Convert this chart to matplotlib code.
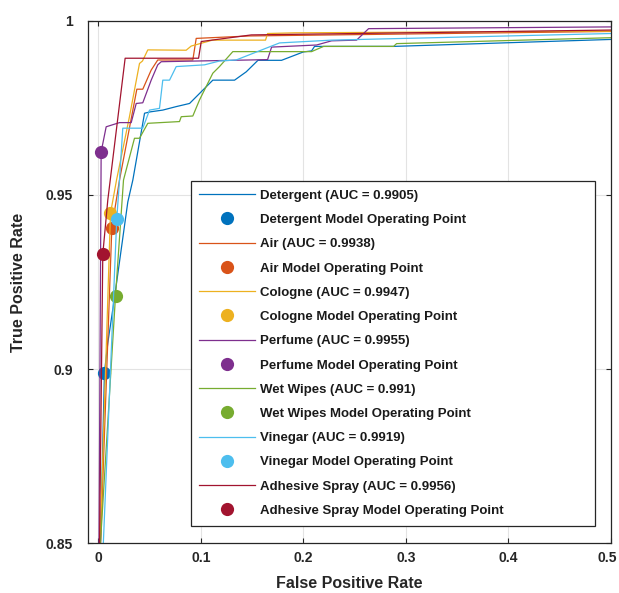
import matplotlib
matplotlib.use("Agg")
import matplotlib.pyplot as plt
import matplotlib.transforms as mtransforms

plt.rcParams['font.family'] = ['Liberation Sans', 'DejaVu Sans']
plt.rcParams['font.weight'] = 'bold'

# ROC curves (FPR, TPR); points below 0.85 are clipped by ylim
names = ["Detergent", "Air", "Cologne", "Perfume", "Wet Wipes", "Vinegar", "Adhesive Spray"]
aucs = ["0.9905", "0.9938", "0.9947", "0.9955", "0.991", "0.9919", "0.9956"]

fpr_detergent = [0.0, 0.0021, 0.0060, 0.0093, 0.0155, 0.0288, 0.0337, 0.0451, 0.0509, 0.0629, 0.0760,
                 0.0890, 0.1117, 0.1329, 0.1443, 0.1557, 0.1787, 0.1999, 0.2080, 0.2109, 0.2880, 0.5, 1.0]
tpr_detergent = [0.0, 0.849, 0.8989, 0.9075, 0.9198, 0.9480, 0.9543, 0.9735, 0.9739, 0.9744, 0.9754,
                 0.9763, 0.9830, 0.9830, 0.9854, 0.9887, 0.9887, 0.9911, 0.9914, 0.9927, 0.9927, 0.9947, 1.0]

fpr_air = [0.0, 0.0021, 0.0132, 0.0207, 0.0376, 0.0434, 0.0516, 0.0580, 0.0922, 0.0955, 0.1475, 0.5, 1.0]
tpr_air = [0.0, 0.849, 0.9405, 0.9543, 0.9804, 0.9804, 0.9859, 0.9888, 0.9888, 0.9950, 0.9957, 0.9970, 1.0]

fpr_cologne = [0.0, 0.0017, 0.0119, 0.0178, 0.0304, 0.0402, 0.0431, 0.0483, 0.0857, 0.0906, 0.1114,
               0.1631, 0.1651, 0.1914, 0.5, 1.0]
tpr_cologne = [0.0, 0.849, 0.9447, 0.9543, 0.9725, 0.9878, 0.9885, 0.9917, 0.9916, 0.9928, 0.9945,
               0.9945, 0.9964, 0.9966, 0.9971, 1.0]

fpr_perfume = [0.0, 0.0007, 0.0028, 0.0077, 0.0207, 0.0321, 0.0370, 0.0434, 0.0516, 0.0580, 0.0614,
               0.1651, 0.1690, 0.2129, 0.2275, 0.2519, 0.2636, 0.5, 1.0]
tpr_perfume = [0.0, 0.849, 0.9624, 0.9696, 0.9708, 0.9708, 0.9763, 0.9765, 0.9830, 0.9874, 0.9883,
               0.9889, 0.9925, 0.9931, 0.9943, 0.9945, 0.9978, 0.9983, 1.0]

fpr_wetwipes = [0.0, 0.0019, 0.0168, 0.0246, 0.0353, 0.0402, 0.0483, 0.0792, 0.0809, 0.0922, 0.0987,
                0.1117, 0.1182, 0.1312, 0.2080, 0.2197, 0.2880, 0.2909, 0.5, 1.0]
tpr_wetwipes = [0.0, 0.849, 0.9210, 0.9543, 0.9663, 0.9663, 0.9706, 0.9711, 0.9725, 0.9727, 0.9773,
                0.9850, 0.9869, 0.9912, 0.9912, 0.9927, 0.9927, 0.9935, 0.9952, 1.0]

fpr_vinegar = [0.0, 0.0048, 0.0180, 0.0207, 0.0239, 0.0434, 0.0500, 0.0597, 0.0629, 0.0695, 0.0760,
               0.1036, 0.1182, 0.1345, 0.1638, 0.1768, 0.2275, 0.5, 1.0]
tpr_vinegar = [0.0, 0.849, 0.9430, 0.9543, 0.9692, 0.9692, 0.9744, 0.9749, 0.9830, 0.9830, 0.9869,
               0.9874, 0.9885, 0.9888, 0.9922, 0.9937, 0.9945, 0.9964, 1.0]

fpr_adhesive = [0.0, 0.0012, 0.0044, 0.0093, 0.0262, 0.0978, 0.1004, 0.1492, 0.2256, 0.5, 1.0]
tpr_adhesive = [0.0, 0.849, 0.9330, 0.9486, 0.9893, 0.9893, 0.9941, 0.9960, 0.9963, 0.9974, 1.0]

# model operating points
op_fpr = [0.0060, 0.0132, 0.0119, 0.0028, 0.0168, 0.0180, 0.0044]
op_tpr = [0.8989, 0.9405, 0.9447, 0.9624, 0.9210, 0.9430, 0.9330]

curves = [(fpr_detergent, tpr_detergent), (fpr_air, tpr_air), (fpr_cologne, tpr_cologne),
          (fpr_perfume, tpr_perfume), (fpr_wetwipes, tpr_wetwipes), (fpr_vinegar, tpr_vinegar),
          (fpr_adhesive, tpr_adhesive)]
colors = ["#0072BD", "#D95319", "#EDB120", "#7E2F8E", "#77AC30", "#4DBEEE", "#A2142F"]

fig = plt.figure(figsize=(6.19, 5.93), dpi=100)
ax = fig.add_axes([0.1422, 0.0843, 0.8449, 0.8803])

for i, (fx, fy) in enumerate(curves):
    ax.plot(fx, fy, color=colors[i], lw=0.9, label=f"{names[i]} (AUC = {aucs[i]})")
    ax.plot(op_fpr[i], op_tpr[i], 'o', color=colors[i], ms=9.5, mec='none',
            label=f"{names[i]} Model Operating Point")

ax.set_xlim(-0.01, 0.5)
ax.set_ylim(0.85, 1.0)
ax.set_xticks([0, 0.1, 0.2, 0.3, 0.4, 0.5])
ax.set_xticklabels(["0", "0.1", "0.2", "0.3", "0.4", "0.5"])
ax.set_yticks([0.85, 0.9, 0.95, 1.0])
ax.set_yticklabels(["0.85", "0.9", "0.95", "1"])
ax.grid(True, color="#E3E3E3", lw=0.8)
ax.set_axisbelow(True)
for s in ax.spines.values():
    s.set_color("#262626")
    s.set_linewidth(0.9)
ax.tick_params(direction='in', top=True, right=True, length=3.5, width=0.8,
               colors="#262626", labelsize=10)
ax.tick_params(axis='y', pad=11)
ax.tick_params(axis='x', pad=6)

# keep the last x tick label inside the canvas
last = ax.get_xticklabels()[-1]
last.set_transform(last.get_transform() + mtransforms.ScaledTranslation(-3 / 72, 0, fig.dpi_scale_trans))

ax.set_xlabel("False Positive Rate", fontsize=11.5, fontweight='bold', color="#262626", labelpad=8)
ax.set_ylabel("True Positive Rate", fontsize=11.5, fontweight='bold', color="#262626", labelpad=14)

leg = ax.legend(loc='upper left', bbox_to_anchor=(0.1964, 0.0331, 0.773, 0.6604), mode='expand',
                borderaxespad=0, fontsize=9.5, handlelength=4.25, handletextpad=0.35,
                labelspacing=0.91, borderpad=0.65, fancybox=False, framealpha=1,
                edgecolor="#262626", numpoints=1)
leg.get_frame().set_linewidth(0.9)
for t in leg.get_texts():
    t.set_fontweight('bold')
    t.set_color("#1a1a1a")

fig.savefig("out.png", dpi=100)
